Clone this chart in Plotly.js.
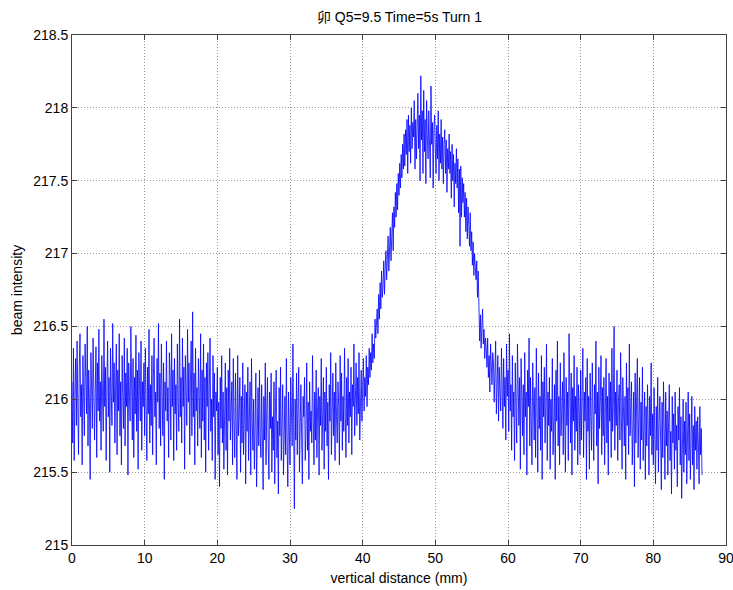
<!DOCTYPE html>
<html>
<head>
<meta charset="utf-8">
<script src="https://cdn.plot.ly/plotly-3.0.1.min.js"></script>
<style>html,body{margin:0;padding:0;background:#fff;}#chart{width:733px;height:590px;}</style>
</head>
<body>
<div id="chart"></div>
<script>
// sample spacing (mm) and start position
const xStart = 0;
const xStep = 0.1;

// beam intensity, one value per 0.1 mm (one row = 1 mm)
const intensity = [
216.12,215.70,216.35,215.58,216.05,216.28,215.82,216.40,215.95,215.62,
216.22,216.45,215.88,216.10,215.55,216.30,216.02,215.75,216.38,216.15,
215.90,216.50,215.68,216.20,215.98,215.45,216.32,216.08,215.80,216.42,
216.18,215.72,216.05,216.36,215.60,216.25,215.92,216.48,215.85,216.12,
215.65,216.30,216.02,215.78,216.55,215.95,216.22,215.58,216.10,216.40,
215.88,216.15,215.50,216.35,216.05,215.82,216.52,215.98,216.25,215.70,
216.08,216.38,215.62,216.20,215.92,216.45,215.75,216.12,215.55,216.30,
216.02,215.80,216.42,215.68,216.18,215.95,216.35,215.48,216.25,216.05,
215.85,216.50,216.10,215.72,216.28,215.60,216.15,215.90,216.44,215.78,
216.20,215.52,216.32,216.00,215.85,216.40,215.65,216.12,215.95,216.25,
215.75,216.35,216.05,215.58,216.22,215.90,216.48,215.70,216.10,215.82,
216.30,215.62,216.15,216.42,215.88,216.05,215.55,216.28,215.98,216.52,
215.80,216.18,215.68,216.38,216.02,215.75,216.25,215.45,216.12,215.92,
216.40,215.85,216.08,215.60,216.32,216.15,215.72,216.45,215.95,216.20,
215.58,216.28,215.90,216.10,215.65,216.38,216.00,215.78,216.55,215.88,
216.15,215.70,216.42,215.95,216.22,215.52,216.30,216.05,215.82,216.48,
215.98,216.25,215.62,216.12,216.40,215.75,216.60,215.88,216.18,215.55,
216.35,215.92,216.08,215.68,216.28,216.02,215.80,216.45,215.60,216.20,
215.85,216.38,215.72,216.15,215.50,216.25,215.95,216.32,215.65,216.10,
216.42,215.78,216.00,215.58,216.30,215.88,216.18,215.45,216.05,215.92,
216.22,215.62,215.98,215.40,216.15,215.80,216.30,215.70,216.05,215.52,
215.90,216.25,215.65,216.08,215.48,216.20,215.85,216.35,215.72,215.98,
216.12,215.55,216.28,215.82,215.60,216.18,215.92,215.45,216.30,215.75,
215.88,216.15,215.50,216.02,215.70,216.25,215.62,215.95,216.10,215.42,
216.05,215.78,216.22,215.58,215.90,216.12,215.48,216.28,215.85,215.65,
216.00,215.52,215.82,216.18,215.40,215.95,216.08,215.68,216.20,215.75,
215.60,216.10,215.85,215.38,216.02,215.72,216.25,215.55,215.92,216.15,
215.70,215.45,216.05,215.80,216.18,215.50,215.88,215.65,216.12,215.42,
215.95,216.20,215.60,215.85,215.35,216.08,215.75,216.22,215.58,215.90,
216.10,215.48,215.78,216.02,215.62,216.28,215.70,215.40,216.05,215.85,
215.55,216.15,215.92,215.68,216.38,215.80,215.25,216.00,215.72,216.18,
215.62,215.95,216.22,215.50,215.85,216.10,215.75,215.42,216.02,215.88,
216.15,215.58,215.80,216.25,215.65,215.98,215.45,216.12,215.78,215.92,
215.70,216.30,215.88,215.55,216.05,215.72,216.20,215.60,215.95,216.08,
215.48,216.02,215.82,216.28,215.65,215.92,216.15,215.52,216.05,215.78,
216.22,215.68,215.98,215.45,216.10,215.85,216.32,215.62,215.90,216.18,
215.75,216.05,215.58,216.25,215.88,215.70,216.12,215.95,215.55,216.30,
215.85,216.18,215.65,216.02,215.78,216.35,215.92,215.60,216.15,215.82,
216.28,215.70,216.05,215.88,216.22,215.62,216.10,215.95,216.38,215.75,
216.00,216.25,215.82,216.15,215.90,216.32,215.72,216.08,216.20,215.85,
216.05,216.28,215.92,216.15,216.02,216.30,215.95,216.22,216.10,216.35,
216.15,216.32,216.20,216.45,216.25,216.38,216.28,216.55,216.42,216.52,
216.62,216.45,216.72,216.55,216.80,216.62,216.88,216.70,216.78,216.95,
216.72,216.90,217.02,216.82,216.98,217.12,216.88,217.08,217.18,216.95,
217.10,217.28,217.02,217.32,217.18,217.42,217.25,217.48,217.30,217.55,
217.40,217.62,217.45,217.68,217.52,217.75,217.58,217.82,217.60,217.85,
217.68,217.92,217.55,217.95,217.70,217.88,217.62,218.00,217.72,217.90,
217.80,218.05,217.58,217.92,217.65,217.88,218.10,217.72,217.95,217.50,
218.22,217.78,217.98,217.55,218.12,217.70,217.92,217.48,218.05,217.80,
217.65,217.98,217.82,217.52,218.15,217.75,217.90,217.45,217.85,217.95,
217.72,217.55,217.88,217.65,217.98,217.50,217.82,217.62,217.92,217.58,
217.80,217.48,217.75,217.85,217.55,217.78,217.42,217.72,217.58,217.82,
217.55,217.70,217.38,217.75,217.50,217.68,217.32,217.62,217.48,217.72,
217.45,217.65,217.28,217.58,217.05,217.60,217.25,217.52,217.35,217.48,
217.25,217.42,217.15,217.38,217.10,217.32,217.20,217.05,217.28,217.02,
217.15,216.92,217.08,216.85,217.00,216.90,216.82,216.95,216.70,216.88,
216.52,216.40,216.58,216.35,216.50,216.62,216.38,216.48,216.28,216.42,
216.35,216.22,216.42,216.15,216.30,216.05,216.38,216.20,216.10,216.32,
216.25,215.98,216.18,216.40,215.90,216.12,216.30,215.85,216.22,216.05,
215.92,216.35,216.08,215.80,216.28,215.95,216.15,215.72,216.38,216.02,
216.20,215.78,216.45,215.92,216.10,215.65,216.30,215.88,216.05,215.58,
216.25,215.95,215.70,216.38,216.02,215.82,216.15,215.52,216.28,215.90,
215.75,216.10,215.62,216.32,215.88,216.05,215.48,216.20,215.95,216.42,
215.68,216.15,215.85,215.55,216.25,215.98,215.72,216.08,215.60,216.35,
215.90,215.50,216.18,215.80,216.02,215.65,216.30,215.45,216.12,215.88,
216.22,215.70,215.95,216.38,215.58,216.05,215.82,216.15,215.52,216.00,
215.78,216.28,215.62,215.92,216.10,215.45,216.20,215.85,216.40,215.68,
216.02,215.55,216.25,215.75,215.98,216.12,215.62,216.32,215.88,215.50,
216.15,215.82,216.05,215.58,216.45,215.92,215.70,216.18,215.48,216.08,
215.85,216.30,215.65,216.02,215.78,216.22,215.55,216.10,215.95,215.62,
216.20,215.72,215.98,216.35,215.60,216.05,215.85,216.15,215.45,216.28,
215.78,216.02,215.52,216.18,215.88,215.65,216.25,215.95,215.58,216.10,
215.90,216.40,215.68,216.05,215.42,216.22,215.80,215.98,216.30,215.62,
216.08,215.75,216.15,215.55,215.92,216.28,215.70,216.02,215.48,216.18,
215.85,216.12,215.60,216.35,215.78,215.95,216.50,215.65,216.05,215.82,
216.20,215.58,215.98,216.10,215.72,216.32,215.88,215.52,216.15,215.90,
215.68,216.02,215.45,216.25,215.82,216.08,215.62,216.38,215.75,215.95,
216.12,215.55,215.85,216.05,215.40,216.18,215.70,215.92,216.28,215.60,
215.88,216.15,215.52,215.98,215.72,216.22,215.58,215.85,216.05,215.45,
215.95,215.68,216.10,215.80,215.48,216.02,215.75,216.25,215.62,215.90,
215.55,216.08,215.78,215.42,215.95,215.65,216.15,215.50,215.85,216.02,
215.72,215.38,215.98,215.60,216.12,215.82,215.45,216.05,215.68,215.92,
215.48,215.85,216.10,215.58,215.78,215.35,216.02,215.70,215.90,215.52,
216.05,215.65,215.82,215.40,215.95,215.72,216.08,215.55,215.88,215.32,
215.78,216.00,215.50,215.85,215.62,215.98,215.42,215.75,216.05,215.58,
215.90,215.45,215.72,216.02,215.55,215.82,215.38,215.95,215.65,215.85,
215.52,215.88,215.70,215.42,215.95,215.62,215.80,215.48
];

const xTicks = [0,10,20,30,40,50,60,70,80,90];
const yTicks = [215,215.5,216,216.5,217,217.5,218,218.5];

const titleText = "卯 Q5=9.5 Time=5s Turn 1";
const xLabel = "vertical distance (mm)";
const yLabel = "beam intensity";

const fontFam = "Liberation Sans, Arial, Noto Sans CJK SC, sans-serif";

const axisCommon = {
  showline: true, linecolor: "#404040", linewidth: 1, mirror: "ticks",
  ticks: "inside", ticklen: 5, tickcolor: "#404040", tickwidth: 1,
  showgrid: true, gridcolor: "#9a9a9a", griddash: "1px,2px", gridwidth: 1,
  zeroline: false, ticklabeloverflow: "allow",
  tickfont: {family: fontFam, size: 14, color: "#000"}
};

const trace = {
  type: "scatter", mode: "lines",
  x0: xStart, dx: xStep, y: intensity,
  line: {color: "rgb(0,0,255)", width: 0.8},
  hoverinfo: "skip"
};

const layout = {
  width: 733, height: 590,
  margin: {l: 72, r: 7, t: 35, b: 45},
  paper_bgcolor: "#fff", plot_bgcolor: "#fff",
  showlegend: false,
  font: {family: fontFam, color: "#000"},
  title: {text: titleText, x: 0.545, xanchor: "center", y: 0.971, yanchor: "middle",
          font: {family: fontFam, size: 14, color: "#000"}},
  xaxis: Object.assign({}, axisCommon, {
    range: [0, 90], tickvals: xTicks, ticktext: xTicks.map(String),
    title: {text: xLabel, font: {family: fontFam, size: 14, color: "#000"}, standoff: 8}
  }),
  yaxis: Object.assign({}, axisCommon, {
    range: [215, 218.5], tickvals: yTicks, ticktext: yTicks.map(String),
    title: {text: yLabel, font: {family: fontFam, size: 14, color: "#000"}, standoff: 7}
  })
};

Plotly.newPlot("chart", [trace], layout, {staticPlot: true, displayModeBar: false});
</script>
</body>
</html>
